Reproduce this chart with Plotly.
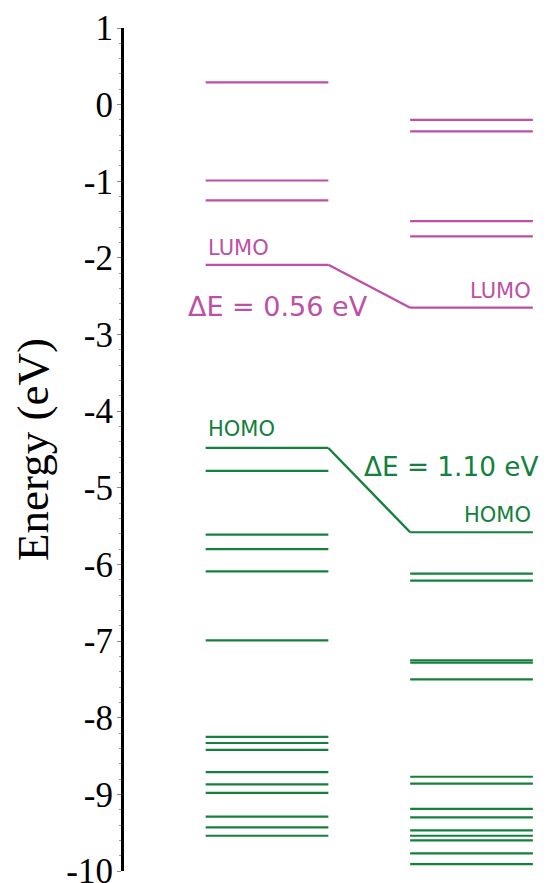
import plotly.graph_objects as go

# ---- data (energies in eV) ----
left_unocc = [0.29, -0.99, -1.25, -2.09]          # left molecule, unoccupied (LUMO last)
right_unocc = [-0.20, -0.35, -1.52, -1.72, -2.65]  # right molecule, unoccupied (LUMO last)
left_occ = [-4.48, -4.78, -5.61, -5.80, -6.09, -6.99,
            -8.25, -8.33, -8.42, -8.71, -8.87, -8.98,
            -9.29, -9.43, -9.54]                     # left molecule, occupied (HOMO first)
right_occ = [-5.58, -6.12, -6.21, -7.25, -7.28, -7.50,
             -8.77, -8.86, -9.19, -9.30, -9.47, -9.54,
             -9.60, -9.77, -9.91]                    # right molecule, occupied (HOMO first)
lumo_gap_label = "ΔE = 0.56 eV"
homo_gap_label = "ΔE = 1.10 eV"
tick_values = [1, 0, -1, -2, -3, -4, -5, -6, -7, -8, -9, -10]
tick_labels = ["1", "0", "-1", "-2", "-3", "-4", "-5", "-6", "-7", "-8", "-9", "-10"]

PURPLE = "#BD4FA5"
GREEN = "#13803C"
HW = 0.3  # half-width of a level line in x units
XL, XR = 1.0, 2.0


def level_xy(energies, xc):
    xs, ys = [], []
    for e in energies:
        xs += [xc - HW, xc + HW, None]
        ys += [e, e, None]
    return xs, ys


fig = go.Figure()
for energies, xc, col in [(left_unocc, XL, PURPLE), (right_unocc, XR, PURPLE),
                          (left_occ, XL, GREEN), (right_occ, XR, GREEN)]:
    xs, ys = level_xy(energies, xc)
    fig.add_trace(go.Scatter(x=xs, y=ys, mode="lines",
                             line=dict(color=col, width=2.2), hoverinfo="skip"))

# connectors between frontier orbitals
fig.add_trace(go.Scatter(x=[XL + HW, XR - HW], y=[left_unocc[-1], right_unocc[-1]],
                         mode="lines", line=dict(color=PURPLE, width=2.4), hoverinfo="skip"))
fig.add_trace(go.Scatter(x=[XL + HW, XR - HW], y=[left_occ[0], right_occ[0]],
                         mode="lines", line=dict(color=GREEN, width=2.4), hoverinfo="skip"))

lab_font = "DejaVu Sans"
ann = [
    dict(x=XL - HW, y=left_unocc[-1] + 0.22, text="LUMO", xanchor="left",
         font=dict(color=PURPLE, size=21, family=lab_font)),
    dict(x=XR + HW, y=right_unocc[-1] + 0.22, text="LUMO", xanchor="right",
         font=dict(color=PURPLE, size=21, family=lab_font)),
    dict(x=XL - HW - 0.095, y=left_unocc[-1] - 0.55, text=lumo_gap_label, xanchor="left",
         font=dict(color=PURPLE, size=27, family=lab_font)),
    dict(x=XL - HW, y=left_occ[0] + 0.25, text="HOMO", xanchor="left",
         font=dict(color=GREEN, size=21, family=lab_font)),
    dict(x=XR + HW, y=right_occ[0] + 0.22, text="HOMO", xanchor="right",
         font=dict(color=GREEN, size=21, family=lab_font)),
    dict(x=XL + 0.465, y=left_occ[0] - 0.25, text=homo_gap_label, xanchor="left",
         font=dict(color=GREEN, size=26.3, family=lab_font)),
]
for a in ann:
    a.update(xref="x", yref="y", showarrow=False, yanchor="middle")
fig.update_layout(annotations=ann)

# the page body has an 8px margin, so the figure is sized to fit inside the window
fig.update_layout(
    width=540, height=875,
    margin=dict(l=116, r=0, t=20, b=12, autoexpand=False),
    paper_bgcolor="white", plot_bgcolor="white",
    showlegend=False,
    xaxis=dict(range=[0.3007, 2.374], visible=False, fixedrange=True, automargin=False),
    yaxis=dict(
        range=[-10, 1], showgrid=False, zeroline=False, automargin=False,
        showline=True, linecolor="black", linewidth=3,
        ticks="outside", ticklen=4, tickcolor="#888888", tickwidth=1,
        tickvals=tick_values, ticktext=tick_labels,
        tickfont=dict(family="Liberation Serif", size=35, color="black"),
        ticklabelstandoff=-3, ticklabeloverflow="allow",
        minor=dict(dtick=0.2, ticks="outside", ticklen=2, tickcolor="#999999", tickwidth=1),
        title=dict(text="Energy (eV)", standoff=12,
                   font=dict(family="Liberation Serif", size=45, color="black")),
    ),
)

fig.write_html("out.html")
